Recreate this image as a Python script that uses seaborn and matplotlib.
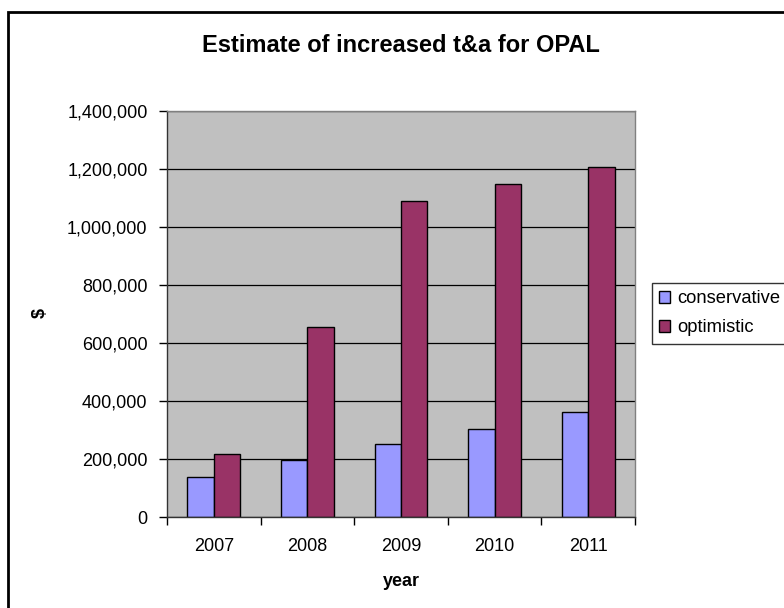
import numpy as np
import pandas as pd
import matplotlib
matplotlib.use('Agg')
import matplotlib.pyplot as plt
import seaborn as sns
from matplotlib.patches import Rectangle
from matplotlib.ticker import FuncFormatter, FixedLocator

# data
years = ['2007', '2008', '2009', '2010', '2011']
conservative = [138000, 195000, 253000, 304000, 361000]
optimistic = [216000, 656000, 1091000, 1148000, 1206000]
series_names = ['conservative', 'optimistic']
colors = ['#9999FF', '#993366']

df = pd.DataFrame({'year': years * 2,
                   'value': conservative + optimistic,
                   'series': [series_names[0]] * 5 + [series_names[1]] * 5})

sns.set_style('white')
plt.rcParams['font.family'] = ['Liberation Sans', 'DejaVu Sans']
plt.rcParams['text.color'] = 'black'
plt.rcParams['xtick.color'] = 'black'
plt.rcParams['ytick.color'] = 'black'

fig = plt.figure(figsize=(7.84, 6.08), dpi=100)
# plot area: x 167..635 px, y 111..517 px
ax = fig.add_axes([167/784, 91/608, 468/784, 406/608])
ax.set_facecolor('#C0C0C0')

sns.barplot(data=df, x='year', y='value', hue='series', palette=colors,
            width=0.566, gap=0, edgecolor='black', linewidth=1, ax=ax,
            saturation=1)

ax.set_ylim(0, 1400000)
ax.set_xlim(-0.5, 4.5)
ax.set_yticks(np.arange(0, 1400001, 200000))
ax.yaxis.set_major_formatter(FuncFormatter(lambda v, p: f'{int(v):,}'))
ax.grid(axis='y', color='black', linewidth=0.9)
ax.set_axisbelow(True)

# category ticks at boundaries, labels in centres
ax.xaxis.set_major_locator(FixedLocator(np.arange(-0.5, 5, 1)))
ax.xaxis.set_minor_locator(FixedLocator(np.arange(0, 5, 1)))
ax.set_xticklabels([''] * 6)
ax.set_xticklabels(years, minor=True)
ax.tick_params(axis='x', which='major', direction='out', length=6, width=1, color='black', bottom=True)
ax.tick_params(axis='x', which='minor', length=0, pad=15, labelsize=13)
ax.tick_params(axis='y', direction='out', length=6, width=1, color='black', left=True, labelsize=13, pad=8)

for s in ['top', 'right']:
    ax.spines[s].set_color('#808080')
    ax.spines[s].set_linewidth(1)
for s in ['left', 'bottom']:
    ax.spines[s].set_color('#333333')
    ax.spines[s].set_linewidth(1)

ax.set_xlabel('')
ax.set_ylabel('')
fig.text(401/784, 1 - 582/608, 'year', ha='center', va='center',
         fontsize=13, fontweight='bold')
fig.text(40/784, 1 - 313/608, '$', ha='center', va='center',
         fontsize=13, fontweight='bold', rotation=90)
fig.text(401/784, 1 - 45/608, 'Estimate of increased t&a for OPAL',
         ha='center', va='center', fontsize=17, fontweight='bold')

leg = ax.legend(loc='upper left', bbox_to_anchor=(652/784, 1 - 283/608),
                bbox_transform=fig.transFigure, frameon=True, fancybox=False,
                handlelength=0.6, handleheight=0.6, handletextpad=0.35,
                borderpad=0.4, labelspacing=0.65, fontsize=13.2, borderaxespad=0)
leg.get_frame().set_edgecolor('black')
leg.get_frame().set_linewidth(1)

fig.patches.append(Rectangle((8/784, -0.1), 1.2, 1 - 12/608 + 0.1,
                             transform=fig.transFigure, fill=False,
                             edgecolor='black', linewidth=2))

fig.savefig('out.png', dpi=100)
